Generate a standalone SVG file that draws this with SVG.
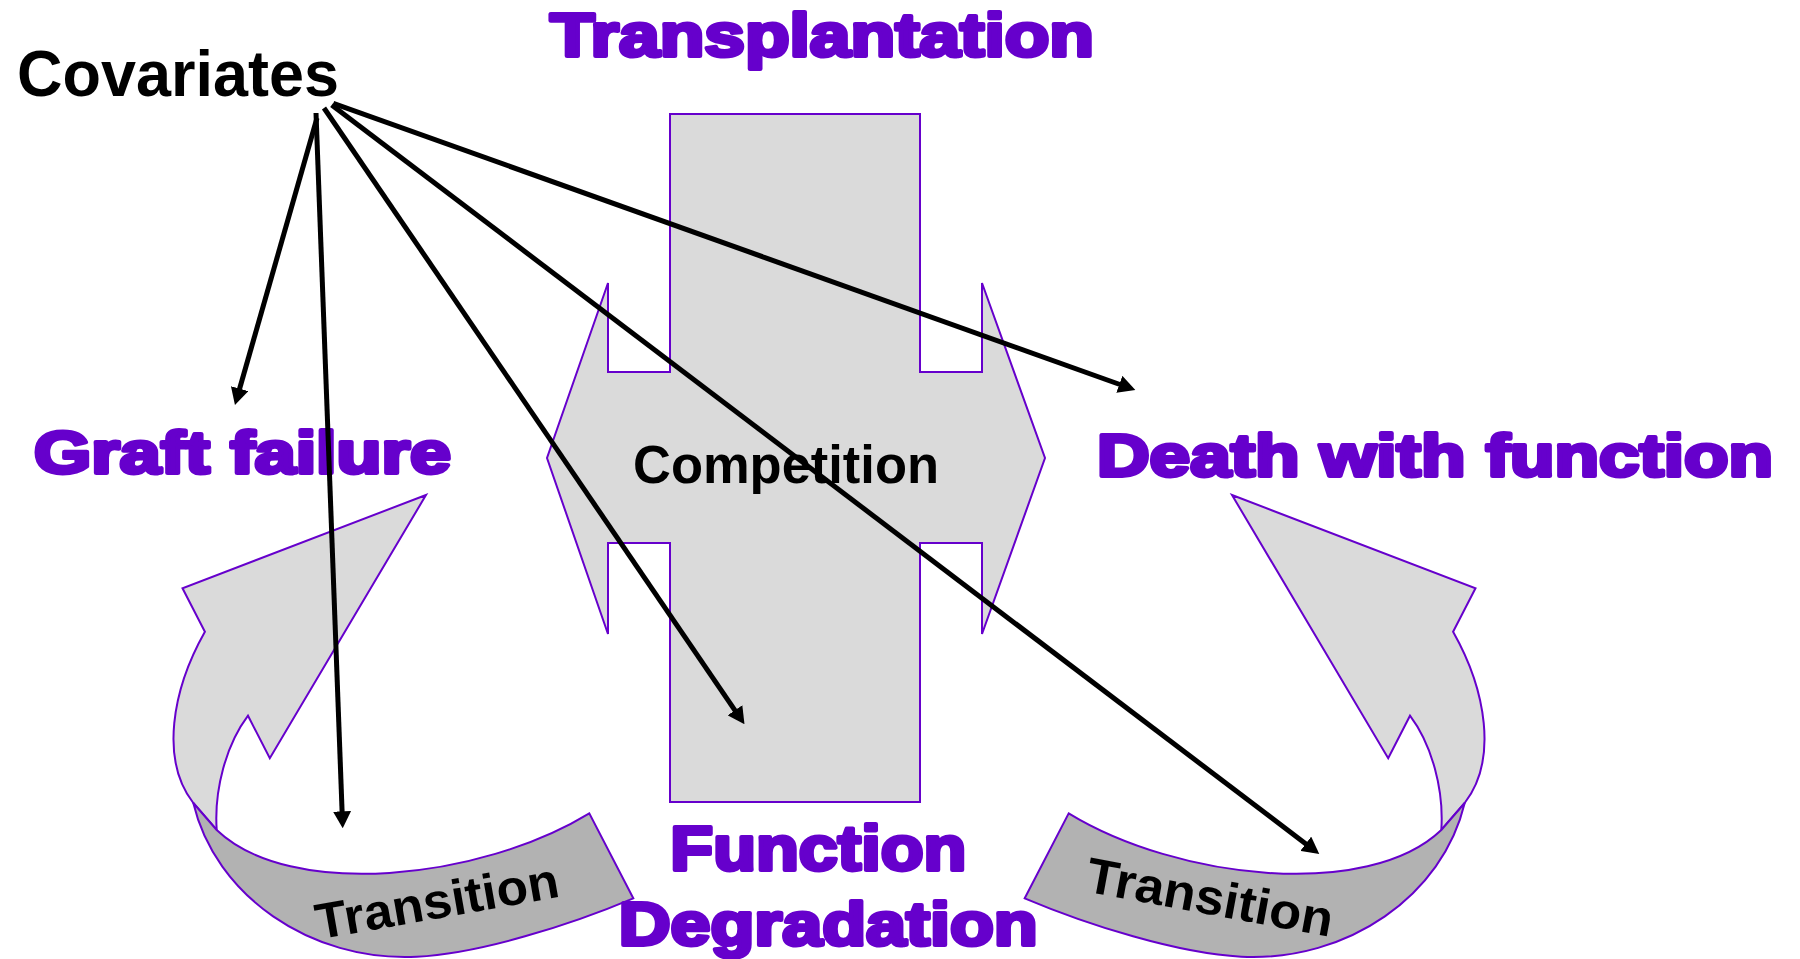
<svg xmlns="http://www.w3.org/2000/svg" width="1800" height="959" viewBox="0 0 1800 959">
<style>
.big{font-family:"Liberation Sans",Arial,sans-serif;font-weight:bold;fill:#6600CC;stroke:#6600CC;stroke-width:4;stroke-linejoin:round}
.lbl{font-family:"Liberation Sans",Arial,sans-serif;font-weight:bold;fill:#000}
.light{fill:#DADADA;stroke:#6600CC;stroke-width:2;stroke-linejoin:miter}
.dark{fill:#B2B2B2;stroke:#6600CC;stroke-width:2;stroke-linejoin:miter}
.conn{stroke:#000;stroke-width:5;fill:none;marker-end:url(#ah)}
</style>
<defs>
<marker id="ah" markerUnits="userSpaceOnUse" viewBox="0 0 17 18" markerWidth="17" markerHeight="18" refX="11" refY="9" orient="auto">
<path d="M0,0 L17,9 L0,18 Z" fill="#000"/>
</marker>
<g id="curlShape">
<path class="light" d="M426,495 L182.5,588.3 L204.9,631.7 C172,690 160,760 193.3,803 L216.7,830 C214,790 226,745 248,715.7 L269.8,758.3 Z"/>
<path class="dark" d="M193.3,803 C215,895 310,962 416.7,956.7 C480,953.5 570,925 633.3,898.3 L589.3,813.3 C480,880 290,900 216.7,830 Z"/>
</g>
</defs>
<rect width="1800" height="959" fill="#fff"/>

<g id="competition">
<path class="light" d="M670,114 L920,114 L920,372 L982,372 L982,283 L1045,458 L982,634 L982,543 L920,543 L920,802 L670,802 L670,543 L608,543 L608,634 L547,458 L608,283 L608,372 L670,372 Z"/>
<text class="lbl" x="786" y="483" font-size="53" text-anchor="middle" textLength="306" lengthAdjust="spacingAndGlyphs">Competition</text>
</g>

<g id="left-transition">
<use href="#curlShape"/>
<text class="lbl" font-size="50" text-anchor="middle" textLength="246" lengthAdjust="spacingAndGlyphs" transform="translate(440,918) rotate(-10)">Transition</text>
</g>

<g id="right-transition">
<use href="#curlShape" transform="matrix(-1 0 0 1 1658 0)"/>
<text class="lbl" font-size="50" text-anchor="middle" textLength="250" lengthAdjust="spacingAndGlyphs" transform="translate(1207,914) rotate(10.5)">Transition</text>
</g>

<g id="covariates">
<text class="lbl" x="17" y="96" font-size="64" textLength="322" lengthAdjust="spacingAndGlyphs">Covariates</text>
</g>

<g id="transplantation">
<text class="big" x="550" y="55.5" font-size="61.5" textLength="544" lengthAdjust="spacingAndGlyphs">Transplantation</text>
</g>

<g id="graft-failure">
<text class="big" x="34" y="473" font-size="58.5" textLength="417" lengthAdjust="spacingAndGlyphs">Graft failure</text>
</g>

<g id="death-with-function">
<text class="big" x="1097" y="476" font-size="59.5" textLength="676" lengthAdjust="spacingAndGlyphs">Death with function</text>
</g>

<g id="function-degradation">
<text class="big" x="670.3" y="869.5" font-size="62.5" textLength="296" lengthAdjust="spacingAndGlyphs">Function</text>
<text class="big" x="618.7" y="944.5" font-size="61.5" textLength="419" lengthAdjust="spacingAndGlyphs">Degradation</text>
</g>

<g id="connectors">
<line class="conn" x1="317" y1="118" x2="236.6" y2="399.2"/>
<line class="conn" x1="316" y1="113" x2="342.5" y2="822.3"/>
<line class="conn" x1="324" y1="108" x2="741.1" y2="719.3"/>
<line class="conn" x1="331.7" y1="105" x2="1314.5" y2="850.4"/>
<line class="conn" x1="333.3" y1="103.3" x2="1129.7" y2="388"/>
</g>
</svg>
